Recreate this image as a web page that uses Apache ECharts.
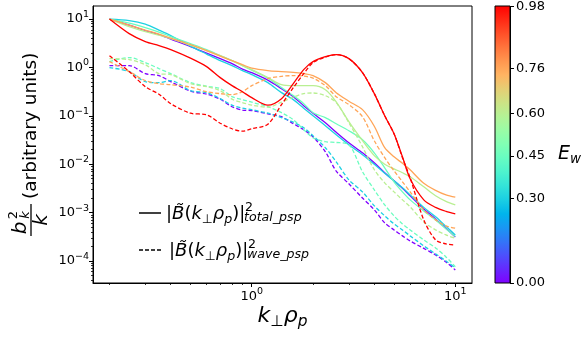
<!DOCTYPE html>
<html>
<head>
<meta charset="utf-8">
<script src="https://cdn.jsdelivr.net/npm/echarts@6/dist/echarts.min.js"></script>
<style>
  html, body { margin: 0; padding: 0; background: #fff; }
  #chart { width: 584px; height: 337px; }
</style>
</head>
<body>
<div id="chart"></div>
<script>
const FONT = 'DejaVu Sans';
const lg = Math.log10;

// k_perp * rho_p sample points shared by every spectrum
const kPerp = [0.2, 0.25, 0.3, 0.35, 0.4, 0.5, 0.6, 0.7, 0.8, 0.9, 1.0, 1.2, 1.4, 1.6, 1.8,
               2.0, 2.3, 2.6, 3.0, 3.5, 4.0, 4.5, 5.0, 5.5, 6.0, 7.0, 8.0, 9.0, 10.0];

// wave energy fraction E_w of each spectrum pair (drives the colour)
const ewValues = [0.00, 0.30, 0.45, 0.60, 0.76, 0.98];

// total spectra |B(k)|^2_total_psp
const totalEw000 = [10, 7.51, 5.78, 4.78, 3.85, 2.70, 1.98, 1.52, 1.20, 0.922, 0.78, 0.546, 0.364, 0.249, 0.162,
                    0.113, 0.0719, 0.0457, 0.0277, 0.0172, 0.0107, 0.00664, 0.00453, 0.00317, 0.00222, 0.00119, 0.00074, 0.000471, 0.000314];
const totalEw030 = [10, 9.31, 7.88, 5.92, 4.55, 2.76, 1.89, 1.38, 1.09, 0.859, 0.71, 0.485, 0.301, 0.216, 0.144,
                    0.100, 0.0624, 0.0406, 0.0252, 0.0157, 0.00995, 0.00648, 0.00453, 0.00325, 0.00232, 0.00128, 0.000815, 0.000518, 0.000345];
const totalEw045 = [10, 8.26, 6.67, 5.38, 4.34, 3.11, 2.34, 1.76, 1.38, 1.09, 0.879, 0.60, 0.382, 0.261, 0.178,
                    0.116, 0.0914, 0.0686, 0.0492, 0.032, 0.0172, 0.0084, 0.00432, 0.00268, 0.00183, 0.00108, 0.000706, 0.00046, 0.000321];
const totalEw060 = [10, 7.0, 5.51, 4.66, 3.95, 2.89, 2.23, 1.76, 1.38, 1.09, 0.90, 0.615, 0.44, 0.42, 0.42,
                    0.42, 0.347, 0.195, 0.0755, 0.0306, 0.015, 0.0100, 0.00803, 0.00664, 0.00548, 0.0034, 0.00222, 0.0017, 0.00144];
const totalEw076 = [10, 7.5, 5.92, 4.89, 4.04, 2.96, 2.23, 1.71, 1.38, 1.14, 0.967, 0.859, 0.819, 0.792, 0.744,
                    0.676, 0.485, 0.301, 0.20, 0.134, 0.0609, 0.0219, 0.0142, 0.01045, 0.00766, 0.00402, 0.00288, 0.00232, 0.00208];
const totalEw098 = [10, 5.0, 3.42, 2.83, 2.34, 1.56, 1.04, 0.615, 0.42, 0.315, 0.237, 0.166, 0.226, 0.462, 0.90,
                    1.32, 1.67, 1.84, 1.52, 0.78, 0.287, 0.10, 0.0426, 0.0142, 0.00499, 0.00183, 0.00128, 0.00106, 0.00094];

// wave spectra |B(k)|^2_wave_psp
const waveEw000 = [1.09, 1.09, 0.744, 0.676, 0.508, 0.323, 0.28, 0.221, 0.154, 0.131, 0.128, 0.11, 0.0958, 0.0686, 0.0515,
                   0.0369, 0.018, 0.0072, 0.00393, 0.0020, 0.00114, 0.000612, 0.000438, 0.00033, 0.000259, 0.000182, 0.000133, 0.000095, 0.000065];
const waveEw030 = [0.99, 0.82, 0.508, 0.485, 0.533, 0.331, 0.301, 0.226, 0.166, 0.144, 0.134, 0.113, 0.0914, 0.0737, 0.0567,
                   0.0387, 0.0219, 0.0112, 0.00475, 0.00268, 0.00138, 0.000855, 0.000583, 0.000438, 0.00033, 0.000205, 0.00014, 0.0001, 0.000072];
const waveEw045 = [1.32, 1.6, 1.26, 0.945, 0.744, 0.485, 0.41, 0.364, 0.249, 0.216, 0.191, 0.154, 0.116, 0.083, 0.0515,
                   0.0352, 0.0291, 0.0281, 0.0253, 0.00697, 0.00295, 0.00144, 0.000855, 0.000583, 0.000438, 0.000272, 0.000186, 0.000121, 0.000076];
const waveEw060 = [1.52, 1.45, 1.14, 0.744, 0.71, 0.462, 0.40, 0.331, 0.221, 0.187, 0.166, 0.151, 0.191, 0.243, 0.287,
                   0.296, 0.261, 0.187, 0.0719, 0.0229, 0.00766, 0.00412, 0.00268, 0.00183, 0.00131, 0.00064, 0.000438, 0.000345, 0.000292];
const waveEw076 = [1.32, 0.82, 0.533, 0.462, 0.44, 0.391, 0.315, 0.287, 0.273, 0.315, 0.42, 0.586, 0.655, 0.676, 0.66,
                   0.60, 0.42, 0.249, 0.17, 0.0958, 0.0305, 0.0136, 0.0073, 0.00432, 0.00268, 0.00114, 0.000706, 0.00053, 0.000475];
const waveEw098 = [1.75, 0.82, 0.40, 0.28, 0.178, 0.113, 0.105, 0.0703, 0.054, 0.048, 0.054, 0.067, 0.17, 0.382, 0.744,
                   1.26, 1.63, 1.84, 1.52, 0.78, 0.287, 0.10, 0.0426, 0.0136, 0.00523, 0.000706, 0.000272, 0.000225, 0.000214];

const totalSets = [totalEw000, totalEw030, totalEw045, totalEw060, totalEw076, totalEw098];
const waveSets = [waveEw000, waveEw030, waveEw045, waveEw060, waveEw076, waveEw098];

// axis ranges and tick labels
const kRange = [0.166, 12.08];
const bRange = [3.5e-5, 18.6];
const xMajorTicks = [1, 10];
const yMajorTicks = [1e-4, 1e-3, 1e-2, 1e-1, 1, 10];
const colorbarTicks = [0.00, 0.30, 0.45, 0.60, 0.76, 0.98];

// minor ticks at 2..9 x 10^n inside a range
function minorLogTicks(range) {
  const out = [];
  for (let n = -6; n <= 2; n++) {
    for (let m = 2; m <= 9; m++) {
      const v = m * Math.pow(10, n);
      if (v >= range[0] && v <= range[1]) out.push(lg(v));
    }
  }
  return out;
}

// matplotlib "rainbow" colormap
function rainbow(x) {
  const r = Math.min(1, Math.abs(2 * x - 0.5));
  const g = Math.max(0, Math.sin(Math.PI * x));
  const b = Math.max(0, Math.cos(Math.PI * x / 2));
  return 'rgb(' + Math.round(255 * r) + ',' + Math.round(255 * g) + ',' + Math.round(255 * b) + ')';
}

const ewMax = Math.max.apply(null, ewValues);

const tickRich = {
  b: { fontSize: 13, fontFamily: FONT, color: '#000' },
  e: { fontSize: 9.5, fontFamily: FONT, color: '#000', padding: [0, 0, 9, 0] }
};
function pow10Label(v) {
  const n = Math.round(v);
  return '{b|10}{e|' + (n < 0 ? '\u2212' + (-n) : String(n)) + '}';
}

const series = [];
ewValues.forEach(function (ew, i) {
  const color = rainbow(ew / ewMax);
  [[totalSets[i], 'solid'], [waveSets[i], [4, 2.2]]].forEach(function (pair) {
    series.push({
      type: 'line',
      xAxisIndex: 0,
      yAxisIndex: 0,
      data: kPerp.map(function (k, j) { return [lg(k), lg(pair[0][j])]; }),
      symbol: 'none',
      smooth: 0.3,
      silent: true,
      lineStyle: { color: color, width: 1.3, type: pair[1] }
    });
  });
});

// colorbar gradient, top = highest E_w
const cbStops = [];
for (let t = 0; t <= 20; t++) {
  cbStops.push({ offset: t / 20, color: rainbow(1 - t / 20) });
}

const mainRich = {
  r: { fontSize: 18, fontFamily: FONT, color: '#000' },
  i: { fontSize: 18, fontFamily: FONT, fontStyle: 'italic', color: '#000' },
  rs: { fontSize: 12.6, fontFamily: FONT, color: '#000', padding: [10, 0, 0, 0] },
  is: { fontSize: 12.6, fontFamily: FONT, fontStyle: 'italic', color: '#000', padding: [10, 0, 0, 0] }
};
const legendMain = '{r|\u007c}{i|B\u0303}{r|(}{i|k}{rs|\u22a5}{i|\u03c1}{is|p}{r|)\u007c}';

function legendRow(x, y, subText) {
  return {
    type: 'group', x: x, y: y, z: 10,
    children: [
      { type: 'text', style: { text: legendMain, x: 0, y: 0, align: 'left', verticalAlign: 'middle', rich: mainRich } },
      { type: 'text', style: { text: '2', x: 79, y: -7, align: 'left', verticalAlign: 'middle',
        fontSize: 12.6, fontFamily: FONT, fill: '#000' } },
      { type: 'text', style: { text: subText, x: 78, y: 3, align: 'left', verticalAlign: 'middle',
        fontSize: 12.6, fontFamily: FONT, fontStyle: 'italic', fill: '#000' } }
    ]
  };
}

const option = {
  animation: false,
  backgroundColor: '#fff',
  textStyle: { fontFamily: FONT },
  grid: [
    { left: 93, top: 6, width: 379, height: 277, show: true, borderColor: '#000', borderWidth: 1, containLabel: false },
    { left: 495, top: 6, width: 15, height: 277, show: false, containLabel: false }
  ],
  xAxis: [
    {
      gridIndex: 0, type: 'value', position: 'bottom', min: lg(kRange[0]), max: lg(kRange[1]),
      axisLine: { show: true, onZero: false, lineStyle: { color: '#000', width: 1 } },
      axisTick: { show: true, length: 4, lineStyle: { color: '#000', width: 1 }, customValues: xMajorTicks.map(lg) },
      axisLabel: { customValues: xMajorTicks.map(lg), margin: 4, formatter: pow10Label, rich: tickRich },
      splitLine: { show: false }
    },
    {
      gridIndex: 0, type: 'value', position: 'bottom', min: lg(kRange[0]), max: lg(kRange[1]),
      axisLine: { show: false, onZero: false },
      axisTick: { show: true, length: 2, lineStyle: { color: '#000', width: 0.8 }, customValues: minorLogTicks(kRange) },
      axisLabel: { show: false },
      splitLine: { show: false }
    },
    { gridIndex: 1, type: 'value', min: 0, max: 1, show: false }
  ],
  yAxis: [
    {
      gridIndex: 0, type: 'value', position: 'left', min: lg(bRange[0]), max: lg(bRange[1]),
      axisLine: { show: true, onZero: false, lineStyle: { color: '#000', width: 1 } },
      axisTick: { show: true, length: 4, lineStyle: { color: '#000', width: 1 }, customValues: yMajorTicks.map(lg) },
      axisLabel: { customValues: yMajorTicks.map(lg), margin: 4, formatter: pow10Label, rich: tickRich },
      splitLine: { show: false }
    },
    {
      gridIndex: 0, type: 'value', position: 'left', min: lg(bRange[0]), max: lg(bRange[1]),
      axisLine: { show: false, onZero: false },
      axisTick: { show: true, length: 2, lineStyle: { color: '#000', width: 0.8 }, customValues: minorLogTicks(bRange) },
      axisLabel: { show: false },
      splitLine: { show: false }
    },
    {
      gridIndex: 1, type: 'value', position: 'right', min: 0, max: ewMax,
      axisLine: { show: true, onZero: false, lineStyle: { color: '#000', width: 1 } },
      axisTick: { show: true, length: 4, lineStyle: { color: '#000', width: 1 }, customValues: colorbarTicks },
      axisLabel: { customValues: colorbarTicks, margin: 6, fontSize: 13, fontFamily: FONT, color: '#000',
        formatter: function (v) { return v.toFixed(2); } },
      splitLine: { show: false }
    }
  ],
  series: series,
  graphic: [
    // colorbar
    { type: 'rect', shape: { x: 495, y: 6, width: 15, height: 277 }, z: 1,
      style: { fill: new echarts.graphic.LinearGradient(0, 0, 0, 1, cbStops), stroke: '#000', lineWidth: 1 } },
    // colorbar title
    { type: 'text', z: 10, style: { text: '{m|E}{s|w}', x: 558, y: 154, align: 'left', verticalAlign: 'middle',
      rich: {
        m: { fontSize: 19, fontFamily: FONT, fontStyle: 'italic', color: '#000' },
        s: { fontSize: 13.5, fontFamily: FONT, fontStyle: 'italic', color: '#000', padding: [10, 0, 0, 0] }
      } } },
    // x axis title
    { type: 'text', z: 10, style: { text: '{m|k}{rs|\u22a5}{m|\u03c1}{is|p}', x: 282.5, y: 316, align: 'center', verticalAlign: 'middle',
      rich: {
        m: { fontSize: 22, fontFamily: FONT, fontStyle: 'italic', color: '#000' },
        rs: { fontSize: 15.4, fontFamily: FONT, color: '#000', padding: [11, 0, 0, 0] },
        is: { fontSize: 15.4, fontFamily: FONT, fontStyle: 'italic', color: '#000', padding: [11, 0, 0, 0] }
      } } },
    // y axis title, rotated to read upwards
    { type: 'group', x: 31, y: 147, rotation: Math.PI / 2, z: 10,
      children: [
        { type: 'text', style: { text: '(arbitrary units)', x: -52, y: 0, align: 'left', verticalAlign: 'middle',
          fontSize: 18.5, fontFamily: FONT, fill: '#000' } },
        { type: 'line', shape: { x1: -89, y1: 0, x2: -57, y2: 0 }, style: { stroke: '#000', lineWidth: 1.3 } },
        { type: 'text', style: { text: 'b', x: -81, y: -10, align: 'center', verticalAlign: 'middle',
          fontSize: 20, fontFamily: FONT, fontStyle: 'italic', fill: '#000' } },
        { type: 'text', style: { text: '2', x: -68, y: -17, align: 'center', verticalAlign: 'middle',
          fontSize: 13, fontFamily: FONT, fill: '#000' } },
        { type: 'text', style: { text: 'k', x: -68, y: -5, align: 'center', verticalAlign: 'middle',
          fontSize: 13, fontFamily: FONT, fontStyle: 'italic', fill: '#000' } },
        { type: 'text', style: { text: 'k', x: -73, y: 11, align: 'center', verticalAlign: 'middle',
          fontSize: 20, fontFamily: FONT, fontStyle: 'italic', fill: '#000' } }
      ] },
    // legend
    { type: 'line', z: 10, shape: { x1: 139, y1: 213, x2: 161, y2: 213 }, style: { stroke: '#000', lineWidth: 1.5 } },
    { type: 'line', z: 10, shape: { x1: 139, y1: 250, x2: 163, y2: 250 }, style: { stroke: '#000', lineWidth: 1.5, lineDash: [4, 2] } },
    legendRow(166, 214.5, 'total_psp'),
    legendRow(169, 251.5, 'wave_psp')
  ]
};

const chart = echarts.init(document.getElementById('chart'), null, { renderer: 'canvas' });
chart.setOption(option);
</script>
</body>
</html>
